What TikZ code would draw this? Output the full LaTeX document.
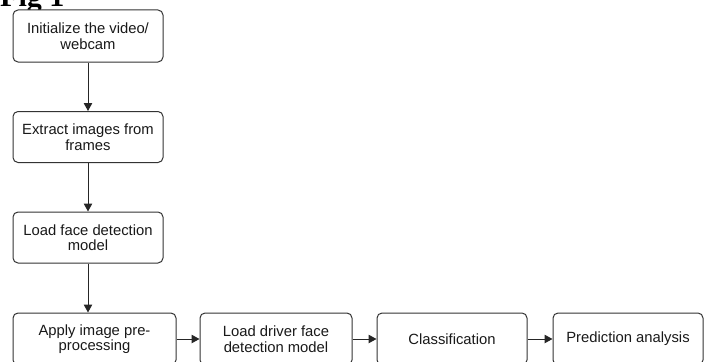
\documentclass[tikz,border=0pt]{standalone}
\usepackage{fontspec}
\setmainfont{Liberation Sans}
\newfontfamily\titlefont{Liberation Serif}
\usetikzlibrary{arrows.meta}
\tikzset{
  box/.style={draw=black!80, line width=1pt, rounded corners=5pt, fill=white,
    align=center, inner sep=0pt, text=black!90, font=\fontsize{14.8}{15.5}\selectfont},
  conn/.style={draw=black!85, line width=1pt, -{Triangle[length=8pt,width=8.5pt]}}
}
\begin{document}
\begin{tikzpicture}[x=1pt,y=-1pt]
\useasboundingbox (0,0) rectangle (711,361);
\clip (0,0) rectangle (711,361);
\node[font=\titlefont\bfseries\fontsize{30}{30}\selectfont, anchor=base west, inner sep=0pt] (title) at (0,7) {Fig 1};
\node[box, minimum width=150pt, minimum height=52pt] (b1) at (88,36) {Initialize the video/\\webcam};
\node[box, minimum width=150pt, minimum height=51pt] (b2) at (88,137) {Extract images from\\frames};
\node[box, minimum width=150pt, minimum height=51pt] (b3) at (88,237.5) {Load face detection\\model};
\node[box, minimum width=163pt, minimum height=52pt] (b4) at (94.5,339) {Apply image pre-\\processing};
\node[box, minimum width=152pt, minimum height=52pt] (b5) at (276,339) {Load driver face\\detection model};
\node[box, minimum width=150pt, minimum height=52pt] (b6) at (452,339) {Classification};
\node[box, minimum width=150pt, minimum height=52pt] (b7) at (628,339) {Prediction analysis};
\draw[conn] (b1) -- (b2);
\draw[conn] (b2) -- (b3);
\draw[conn] (b3.south) -- (b3.south |- b4.north);
\draw[conn] (b4) -- (b5);
\draw[conn] (b5) -- (b6);
\draw[conn] (b6) -- (b7);
\end{tikzpicture}
\end{document}
